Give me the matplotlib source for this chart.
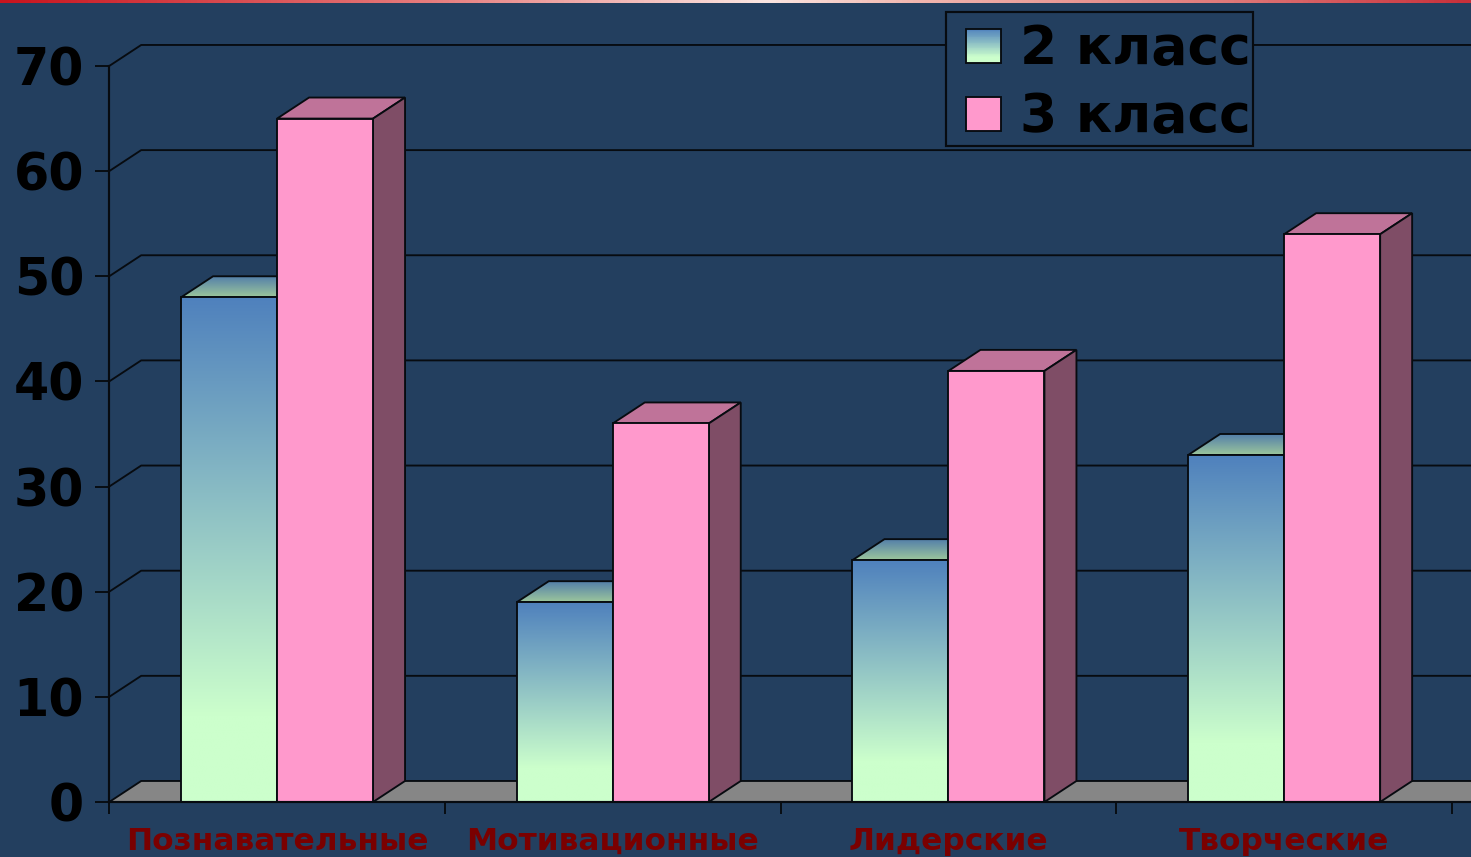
import numpy as np
import matplotlib
matplotlib.use("Agg")
import matplotlib.pyplot as plt
from matplotlib.colors import LinearSegmentedColormap
from matplotlib.legend_handler import HandlerPatch
from matplotlib.patches import Patch, Polygon, Rectangle

categories = ["Познавательные", "Мотивационные", "Лидерские", "Творческие"]
series_names = ["2 класс", "3 класс"]
class2 = [48, 19, 23, 33]
class3 = [65, 36, 41, 54]
y_ticks = [0, 10, 20, 30, 40, 50, 60, 70]

W, H = 1471, 857
BG = "#233F5F"
PINK = "#FF99CC"
PINK_TOP = "#BF7399"
PINK_SIDE = "#7F4D66"
FLOOR = "#868686"
INK = "#070B10"
LW = 1.35

cm_front = LinearSegmentedColormap.from_list(
    "front", [(0, "#CCFFCC"), (0.17, "#CCFFCC"), (1, "#4F81BD")])
cm_top = LinearSegmentedColormap.from_list("top", ["#9CC69C", "#4F7BAA"])
cm_strip = LinearSegmentedColormap.from_list(
    "strip", [(0, "#C8141E"), (0.3, "#E88080"), (0.52, "#FBE6E2"),
              (0.62, "#F2B8B0"), (0.84, "#E07878"), (1, "#C8303A")])

fig = plt.figure(figsize=(W / 100, H / 100), dpi=100, facecolor=BG)
plt.rcParams["font.family"] = ["DejaVu Sans"]

strip = fig.add_axes([0, 1 - 3 / H, 1, 3 / H])
strip.imshow(np.linspace(0, 1, 256)[None, :], cmap=cm_strip, aspect="auto")
strip.axis("off")

cat_w = 335.7
x0, x1, y0, y70 = 109.2, W, 802, 66
ax = fig.add_axes([x0 / W, 1 - y0 / H, (x1 - x0) / W, (y0 - y70) / H])
ax.set_facecolor("none")
xmax = (x1 - x0) / cat_w
ax.set_xlim(0, xmax)
ax.set_ylim(0, 70)
dx = 32 / cat_w
dy = 2.0
bar_w = 96 / cat_w


def poly(pts, fc, z):
    p = Polygon(pts, closed=True, facecolor=fc, edgecolor=INK, linewidth=LW,
                zorder=z, clip_on=False, joinstyle="miter")
    ax.add_patch(p)
    return p


def gradient(cmap, extent, clip, z):
    im = ax.imshow(np.linspace(1, 0, 256)[:, None], cmap=cmap, vmin=0, vmax=1,
                   extent=extent, aspect="auto", zorder=z, interpolation="bilinear")
    im.set_clip_path(clip)


# back wall grid lines
for v in y_ticks[1:]:
    ax.plot([0, dx, xmax + dx], [v, v + dy, v + dy], color=INK, lw=LW,
            zorder=1, clip_on=False)

# floor
ax.add_patch(Polygon([(0, 0), (dx, dy), (xmax + dx, dy), (xmax, 0)], closed=True,
                     facecolor=FLOOR, edgecolor=INK, linewidth=LW, zorder=2, clip_on=False))

# bars
z = 3
for i, (a, b) in enumerate(zip(class2, class3)):
    c = i + 0.5
    # series 2 класс
    l, r = c - bar_w, c
    top = poly([(l, a), (l + dx, a + dy), (r + dx, a + dy), (r, a)], "none", z + 0.2)
    gradient(cm_top, [l, r + dx, a, a + dy], top, z + 0.1)
    front = poly([(l, 0), (l, a), (r, a), (r, 0)], "none", z + 0.4)
    gradient(cm_front, [l, r, 0, a], front, z + 0.3)
    # series 3 класс
    l, r = c, c + bar_w
    poly([(l, b), (l + dx, b + dy), (r + dx, b + dy), (r, b)], PINK_TOP, z + 0.5)
    poly([(r, 0), (r + dx, dy), (r + dx, b + dy), (r, b)], PINK_SIDE, z + 0.6)
    poly([(l, 0), (l, b), (r, b), (r, 0)], PINK, z + 0.7)
    z += 1

ax.set_xlim(0, xmax)
ax.set_ylim(0, 70)

# axes
for s in ("top", "right"):
    ax.spines[s].set_visible(False)
for s in ("left", "bottom"):
    ax.spines[s].set_color(INK)
    ax.spines[s].set_linewidth(LW + 0.2)
    ax.spines[s].set_zorder(20)
ax.set_yticks(y_ticks)
ax.set_yticklabels([str(v) for v in y_ticks], fontsize=36.5, fontweight="bold", color="black")
ax.tick_params(axis="y", length=10, width=LW, color=INK, pad=8)
ax.set_xticks(range(len(categories) + 1))
ax.set_xticklabels([])
ax.tick_params(axis="x", which="major", length=8.5, width=LW, color=INK)
ax.set_xticks(np.arange(len(categories)) + 0.5, minor=True)
ax.set_xticklabels(categories, minor=True, fontsize=22.5, fontweight="bold", color="#7A0000")
ax.tick_params(axis="x", which="minor", length=0, pad=18)


class SwatchHandler(HandlerPatch):
    """Square legend key, inset from the left; optionally a vertical gradient."""

    def __init__(self, cmap=None, **kw):
        super().__init__(**kw)
        self.cmap = cmap

    def create_artists(self, legend, orig, xd, yd, width, height, fontsize, trans):
        inset = 0.27 * fontsize
        drop = 0.09 * fontsize
        kx, kw = -xd + inset - 1, width - inset
        ky = -yd - drop
        artists = []
        if self.cmap is None:
            artists.append(Rectangle((kx, ky), kw, height, facecolor=orig.get_facecolor(),
                                     edgecolor="none", transform=trans))
        else:
            n = 40
            for k in range(n):
                artists.append(Rectangle((kx, ky + height * k / n), kw, height / n + 0.3,
                                         facecolor=self.cmap((k + 0.5) / n), edgecolor="none",
                                         transform=trans))
        artists.append(Rectangle((kx, ky), kw, height, facecolor="none", edgecolor=INK,
                                 linewidth=LW, transform=trans))
        return artists


h2 = Patch(facecolor="#4F81BD", edgecolor=INK, linewidth=LW, label=series_names[0])
h3 = Patch(facecolor=PINK, edgecolor=INK, linewidth=LW, label=series_names[1])
leg = ax.legend(handles=[h2, h3],
                handler_map={h2: SwatchHandler(cm_front), h3: SwatchHandler()},
                loc="upper left", bbox_to_anchor=(946 / W, 1 - 12 / H),
                bbox_transform=fig.transFigure,
                prop={"size": 38.5, "weight": "bold"},
                fancybox=False, framealpha=1, facecolor=BG, edgecolor=INK,
                borderpad=0.13, labelspacing=0.30, handlelength=0.93, handleheight=0.60,
                handletextpad=0.24, borderaxespad=0)
leg.get_frame().set_linewidth(LW + 0.2)
leg.set_zorder(30)
for t in leg.get_texts():
    t.set_position((4, -4))

fig.savefig("out.png", dpi=100, facecolor=BG)
